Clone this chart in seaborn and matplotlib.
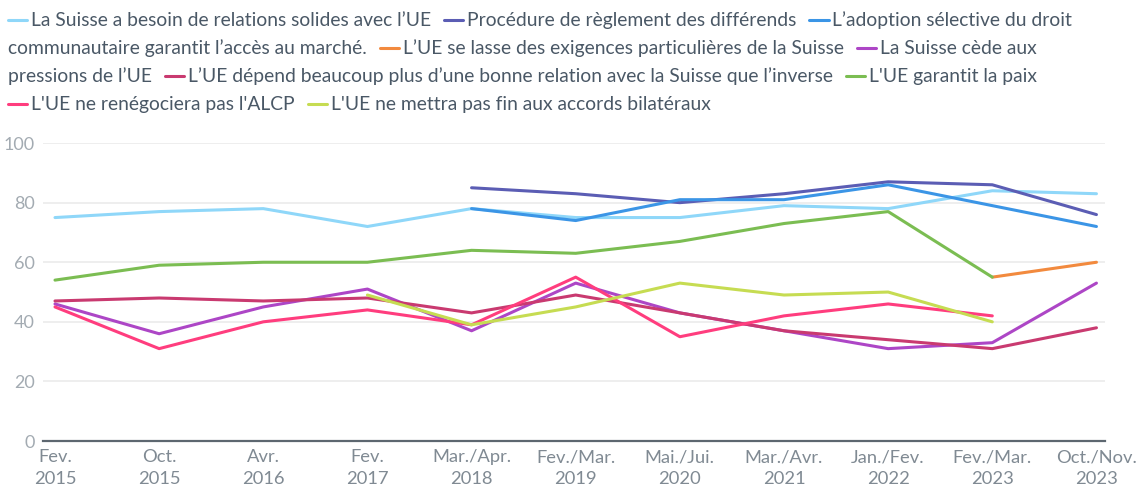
import numpy as np
import pandas as pd
import matplotlib
matplotlib.use("Agg")
import matplotlib.pyplot as plt
from matplotlib.lines import Line2D
import seaborn as sns

nan = np.nan

periods = ["Fev.\n2015", "Oct.\n2015", "Avr.\n2016", "Fev.\n2017", "Mar./Apr.\n2018",
           "Fev./Mar.\n2019", "Mai./Jui.\n2020", "Mar./Avr.\n2021", "Jan./Fev.\n2022",
           "Fev./Mar.\n2023", "Oct./Nov.\n2023"]

labels = [
    "La Suisse a besoin de relations solides avec l’UE",
    "Procédure de règlement des différends",
    "L’adoption sélective du droit communautaire garantit l’accès au marché.",
    "L’UE se lasse des exigences particulières de la Suisse",
    "La Suisse cède aux pressions de l’UE",
    "L’UE dépend beaucoup plus d’une bonne relation avec la Suisse que l’inverse",
    "L'UE garantit la paix",
    "L'UE ne renégociera pas l'ALCP",
    "L'UE ne mettra pas fin aux accords bilatéraux",
]

besoin_relations = [75, 77, 78, 72, 78, 75, 75, 79, 78, 84, 83]
reglement_differends = [nan, nan, nan, nan, 85, 83, 80, 83, 87, 86, 76]
adoption_selective = [nan, nan, nan, nan, 78, 74, 81, 81, 86, 79, 72]
ue_se_lasse = [nan, nan, nan, nan, nan, nan, nan, nan, nan, 55, 60]
suisse_cede = [46, 36, 45, 51, 37, 53, 43, 37, 31, 33, 53]
ue_depend = [47, 48, 47, 48, 43, 49, 43, 37, 34, 31, 38]
garantit_paix = [54, 59, 60, 60, 64, 63, 67, 73, 77, 55, nan]
pas_alcp = [45, 31, 40, 44, 39, 55, 35, 42, 46, 42, nan]
pas_fin_bilat = [nan, nan, nan, 49, 39, 45, 53, 49, 50, 40, nan]

colors = ["#8fd7f9", "#5b5db4", "#3b95e6", "#f28a3e", "#ad46c6",
          "#c93a70", "#7bbd52", "#ff3d7e", "#c6dc52"]

series = [besoin_relations, reglement_differends, adoption_selective, ue_se_lasse,
          suisse_cede, ue_depend, garantit_paix, pas_alcp, pas_fin_bilat]

rows = []
for lab, vals in zip(labels, series):
    for i, v in enumerate(vals):
        rows.append({"periode": i, "valeur": v, "serie": lab})
df = pd.DataFrame(rows).dropna()

sns.set_style("white")
plt.rcParams["font.family"] = ["Lato", "DejaVu Sans"]

fig = plt.figure(figsize=(11.38, 4.9), dpi=100)
ax = fig.add_axes([0.0378, 0.1, 0.933, 0.608])

sns.lineplot(data=df, x="periode", y="valeur", hue="serie", hue_order=labels,
             palette=colors, linewidth=2.2, ax=ax, legend=False, sort=True)

ax.set_xlim(-0.115, 10.08)
ax.set_ylim(0, 100)
ax.set_yticks(range(0, 101, 20))
ax.set_xticks(range(len(periods)))
ax.set_xticklabels(periods, color="#808a93", fontsize=13.2, linespacing=1.4)
ax.tick_params(axis="y", labelcolor="#a3abb2", labelsize=13, length=0, pad=6)
ax.tick_params(axis="x", length=0, pad=6)
ax.grid(axis="y", color="#ebebeb", linewidth=1.2)
ax.set_axisbelow(True)
for s in ["top", "left", "right"]:
    ax.spines[s].set_visible(False)
ax.spines["bottom"].set_color("#5d6770")
ax.spines["bottom"].set_linewidth(1.6)
ax.set_xlabel("")
ax.set_ylabel("")

# legend laid out as flowing text, like the original
renderer = fig.canvas.get_renderer()
W, H = fig.bbox.width, fig.bbox.height
fs = 13.9
txt_kw = dict(fontsize=fs, color="#4a5866", va="baseline", ha="left")


def text_w(s):
    t = fig.text(0, 0, s, **txt_kw)
    w = t.get_window_extent(renderer).width
    t.remove()
    return w


x0, xmax = 8, 1095
line_h = 28
base0 = 26
x, line = x0, 0
sw_len, sw_gap, item_gap = 19, 4, 13

for lab, col in zip(labels, colors):
    words = lab.split(" ")
    first_w = text_w(words[0])
    if x > x0 and x + sw_len + sw_gap + first_w > xmax:
        x, line = x0, line + 1
    yb = H - (base0 + line * line_h)
    fig.add_artist(Line2D([x / W, (x + sw_len) / W], [(yb + 5.5) / H, (yb + 5.5) / H],
                          color=col, linewidth=2.2, transform=fig.transFigure))
    x += sw_len + sw_gap
    chunk = ""
    for wd in words:
        trial = wd if chunk == "" else chunk + " " + wd
        if x + text_w(trial) > xmax and chunk != "":
            fig.text(x / W, yb / H, chunk, **txt_kw)
            x, line = x0, line + 1
            yb = H - (base0 + line * line_h)
            chunk = wd
        else:
            chunk = trial
    fig.text(x / W, yb / H, chunk, **txt_kw)
    x += text_w(chunk) + item_gap

fig.savefig("out.png", dpi=100)
